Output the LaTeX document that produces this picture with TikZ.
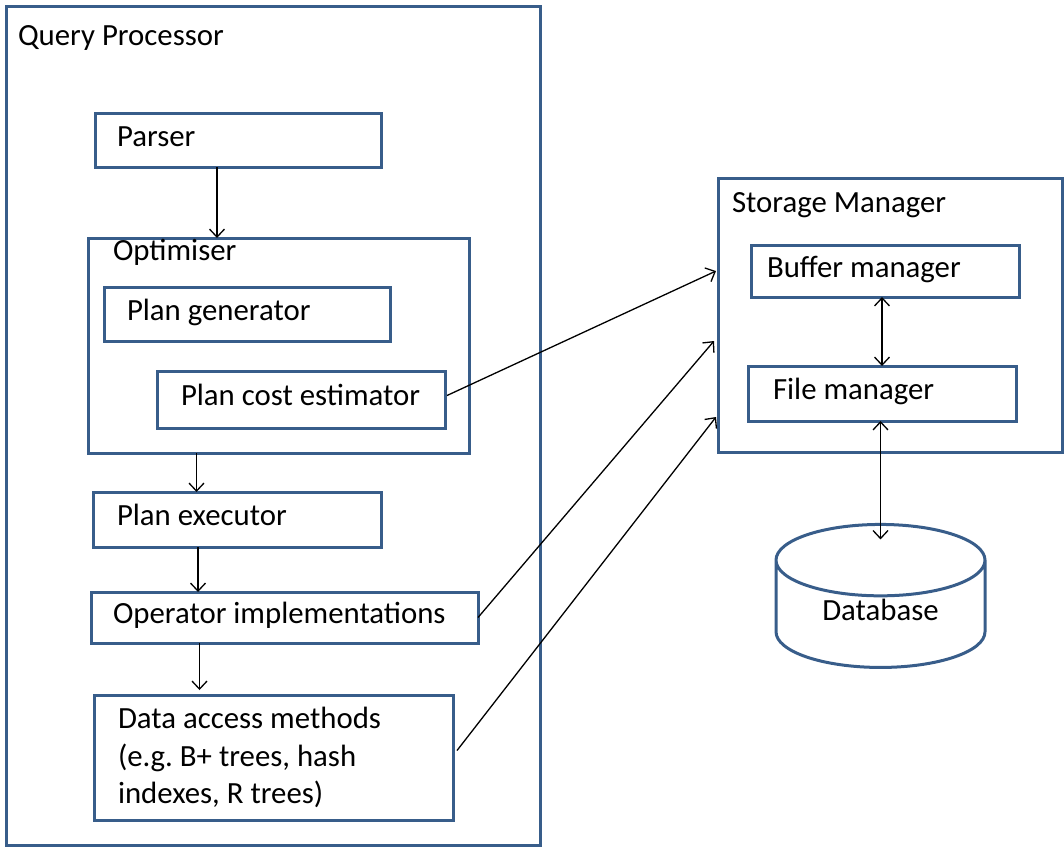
\documentclass[tikz,border=0pt]{standalone}
\usepackage{fontspec}
\setmainfont{Carlito}
\frenchspacing
\usepackage{tikz}
\usetikzlibrary{shapes.geometric}
\usetikzlibrary{positioning}
\usetikzlibrary{arrows.meta}
\definecolor{frame}{RGB}{56,93,138}

\begin{document}
\begin{tikzpicture}[x=1pt,y=-1pt,every node/.style={font=\fontsize{30.8pt}{37.5pt}\selectfont,outer sep=0pt,inner ysep=0pt},
box/.style={draw=frame,line width=3pt,anchor=north west,align=flush left,inner xsep=#1},box/.default=22pt,
oneline/.style={text height=22pt,text depth=10pt},
txt/.style={anchor=base west,inner sep=0pt},
arr/.style={-{Straight Barb[length=8pt,width=15pt]},line width=1.3pt},
dbl/.style={{Straight Barb[length=8pt,width=15pt]}-{Straight Barb[length=8pt,width=15pt]},line width=1.3pt}]
\useasboundingbox (0,0) rectangle (1064,847);

\node[box=12pt,minimum width=534pt,minimum height=839pt] (qp) at (6,6) {};
\node[txt] (qp-t) at (18,45) {Query Processor};
\node[box,oneline,minimum height=54pt,text width=242pt] (parser) at (95,113) {Parser};
\node[box,minimum width=381pt,minimum height=215pt] (opt) at (88,238) {};
\node[txt] (opt-t) at (113,260) {Optimiser};
\node[box=23pt,oneline,minimum height=54pt,text width=240pt] (pgen) at (104,287) {Plan generator};
\node[box=24pt,oneline,minimum height=57pt,text width=240pt] (pcost) at (157,371) {Plan cost estimator};
\node[box=24pt,oneline,minimum height=55pt,text width=240pt] (pexec) at (93,492) {Plan executor};
\node[box,oneline,minimum height=51pt,text width=343pt] (opimpl) at (91,592) {Operator implementations};
\node[box=24pt,minimum height=125pt,text width=311pt] (dam) at (94,695) {Data access methods\\(e.g. B+ trees, hash\\indexes, R trees)};

\node[box,minimum width=344pt,minimum height=274pt] (sm) at (718,178) {};
\node[txt] (sm-t) at (732,212) {Storage Manager};
\node[box=16pt,oneline,minimum height=52pt,text width=236pt] (buf) at (751,245) {Buffer manager};
\node[box=25pt,oneline,minimum height=55pt,text width=218pt] (fm) at (748,366) {File manager};
\node[cylinder,shape border rotate=90,draw=frame,line width=3pt,aspect=0.58,minimum width=209pt,minimum height=143pt,text height=20pt,text depth=18pt] (db) at (880.5,619) {Database};

\draw[arr] ([xshift=-21pt]parser.south) -- ([xshift=-21pt]parser.south |- opt.north);
\draw[arr] ([xshift=-82pt]opt.south) -- ([xshift=-82pt]opt.south |- pexec.north);
\draw[arr] ([xshift=-39pt]pexec.south) -- ([xshift=-39pt]pexec.south |- opimpl.north);
\draw[arr] ([xshift=-85pt]opimpl.south) -- ([xshift=-85pt,yshift=5pt]opimpl.south |- dam.north);
\draw[arr] ([xshift=2pt,yshift=4pt]pcost.east) -- ([xshift=-2pt,yshift=44pt]sm.west);
\draw[arr] (opimpl.east) -- ([xshift=-4pt,yshift=-26pt]sm.west);
\draw[arr] ([xshift=4pt,yshift=7pt]dam.east) -- ([xshift=-2pt,yshift=-102pt]sm.west);
\draw[dbl] ([xshift=-3pt]buf.south) -- ([xshift=-3pt]buf.south |- fm.north);
\draw[dbl] (fm.south -| db.top) -- ([yshift=-15pt]db.top);
\end{tikzpicture}
\end{document}
